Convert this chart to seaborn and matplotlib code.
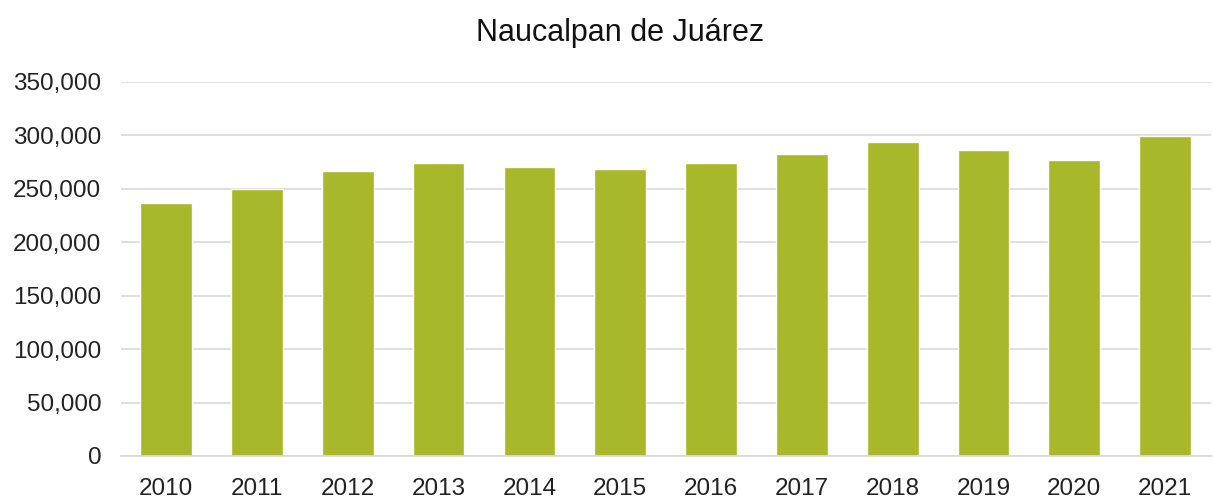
import matplotlib
matplotlib.use("Agg")
import matplotlib.pyplot as plt
import seaborn as sns
import pandas as pd
from matplotlib.ticker import FuncFormatter

years = ["2010", "2011", "2012", "2013", "2014", "2015",
         "2016", "2017", "2018", "2019", "2020", "2021"]
values = [236500, 249500, 266500, 274000, 270200, 268300,
          274000, 283000, 294300, 286800, 277400, 299300]

df = pd.DataFrame({"year": years, "value": values})

sns.set_theme(style="white")
plt.rcParams["font.family"] = ["Liberation Sans", "DejaVu Sans"]

fig = plt.figure(figsize=(12.13, 5), dpi=100)
ax = fig.add_axes([0.0995, 0.088, 0.8985, 0.748])

sns.barplot(data=df, x="year", y="value", color="#A7B82A", width=0.57,
            saturation=1, ax=ax, zorder=2)

ax.set_ylim(0, 350000)
ax.set_yticks(range(0, 350001, 50000))
ax.yaxis.set_major_formatter(FuncFormatter(lambda v, p: f"{int(v):,}"))
ax.grid(axis="y", color="#D9D9D9", linewidth=1.2, zorder=0)
ax.set_axisbelow(True)
for s in ax.spines.values():
    s.set_visible(False)
ax.spines["bottom"].set_visible(True)
ax.spines["bottom"].set_color("#D9D9D9")

ax.tick_params(axis="both", length=0, labelsize=17.5, colors="#222222")
ax.tick_params(axis="y", pad=14)
ax.tick_params(axis="x", pad=16)
ax.set_xlabel("")
ax.set_ylabel("")
fig.suptitle("Naucalpan de Juárez", fontsize=22, color="#111111",
             x=0.511, y=0.965, va="top")

fig.savefig("out.png", dpi=100)
